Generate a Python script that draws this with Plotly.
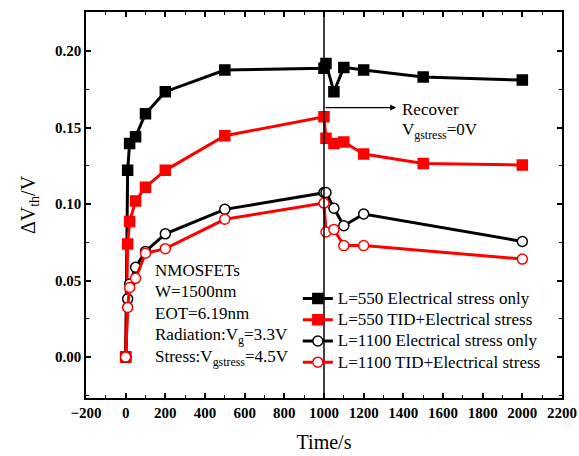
import plotly.graph_objects as go

# Time points (s): stress phase 0-1000 s, recovery phase 1000-2000 s
t_sq = [0, 10, 20, 50, 100, 200, 500, 1000, 1010, 1050, 1100, 1200, 1500, 2000]
t_circ = [0, 10, 20, 50, 100, 200, 500, 1000, 1010, 1050, 1100, 1200, 2000]

# Threshold-voltage shift (V)
l550_elec = [0.0, 0.122, 0.1396, 0.144, 0.159, 0.1734, 0.1876, 0.1887, 0.1918, 0.1734, 0.1893, 0.1876, 0.183, 0.181]
l550_tid = [0.0, 0.0739, 0.0885, 0.102, 0.111, 0.122, 0.1446, 0.157, 0.143, 0.1396, 0.1405, 0.1327, 0.1265, 0.1255]
l1100_elec = [0.0, 0.038, 0.0477, 0.0586, 0.069, 0.0805, 0.0965, 0.1075, 0.1075, 0.0972, 0.0858, 0.0935, 0.0755]
l1100_tid = [0.0, 0.0324, 0.0455, 0.0514, 0.0678, 0.0708, 0.090, 0.1006, 0.0817, 0.0834, 0.0728, 0.0728, 0.064]

names = [
    "L=550 Electrical stress only",
    "L=550 TID+Electrical stress",
    "L=1100 Electrical stress only",
    "L=1100 TID+Electrical stress",
]

# Tick positions and labels
x_ticks = [-200, 0, 200, 400, 600, 800, 1000, 1200, 1400, 1600, 1800, 2000, 2200]
x_tick_labels = ["\u2212200", "0", "200", "400", "600", "800", "1000", "1200",
                 "1400", "1600", "1800", "2000", "2200"]
y_ticks = [0.00, 0.05, 0.10, 0.15, 0.20]
y_tick_labels = ["0.00", "0.05", "0.10", "0.15", "0.20"]

SERIF = "Liberation Serif"

fig = go.Figure()

series = [
    (t_sq, l550_elec, "black", "square", "black"),
    (t_sq, l550_tid, "red", "square", "red"),
    (t_circ, l1100_elec, "black", "circle", "white"),
    (t_circ, l1100_tid, "red", "circle", "white"),
]
for (tx, vy, col, sym, fill), nm in zip(series, names):
    fig.add_trace(go.Scatter(
        x=tx, y=vy, name=f"<span style='font-size:17px'>{nm}</span>",
        mode="lines+markers",
        line=dict(color=col, width=3),
        marker=dict(symbol=sym, size=10,
                    color=fill, line=dict(color=col, width=1.5)),
    ))

# Boundary between stress and recovery
fig.add_shape(type="line", xref="x", yref="paper", x0=1000, x1=1000, y0=0, y1=1,
              line=dict(color="black", width=1.5))

# Recovery arrow and label
fig.add_annotation(x=1364, y=0.163, ax=1000, ay=0.163, xref="x", yref="y",
                   axref="x", ayref="y", text="", showarrow=True,
                   arrowhead=2, arrowsize=1, arrowwidth=1.2, arrowcolor="black")
fig.add_annotation(x=1382, y=0.1615, xref="x", yref="y", xanchor="left",
                   text="Recover", showarrow=False,
                   font=dict(family=SERIF, size=17, color="black"))
fig.add_annotation(x=1382, y=0.1475, xref="x", yref="y", xanchor="left",
                   text="V<sub>gstress</sub>=0V", showarrow=False,
                   font=dict(family=SERIF, size=17, color="black"))

# Device / condition notes
notes = [
    ("NMOSFETs", 0.0565),
    ("W=1500nm", 0.0425),
    ("EOT=6.19nm", 0.0285),
    ("Radiation:V<sub>g</sub>=3.3V", 0.014),
    ("Stress:V<sub>gstress</sub>=4.5V", -0.0005),
]
for txt, vy in notes:
    fig.add_annotation(x=140, y=vy, xref="x", yref="y", xanchor="left",
                       text=txt, showarrow=False,
                       font=dict(family=SERIF, size=17, color="black"))

axis_common = dict(
    showline=True, linecolor="black", linewidth=1.5, mirror="allticks",
    ticks="inside", ticklen=5, tickwidth=1.5, tickcolor="black",
    showgrid=False, zeroline=False, automargin=False,
    tickfont=dict(family=SERIF, size=15, color="black"),
)

fig.update_xaxes(
    range=[-200, 2200], tickmode="array", tickvals=x_ticks,
    ticktext=[f"<b>{s}</b>" for s in x_tick_labels],
    minor=dict(dtick=100, tick0=0, ticks="inside", ticklen=3, tickcolor="black", tickwidth=1.2),
    title=dict(text="Time/s", font=dict(family=SERIF, size=20, color="black"), standoff=15),
    **axis_common,
)
fig.update_yaxes(
    range=[-0.0268, 0.2255], tickmode="array", tickvals=y_ticks,
    ticktext=[f"<b>{s}</b>" for s in y_tick_labels],
    minor=dict(dtick=0.025, tick0=0, ticks="inside", ticklen=3, tickcolor="black", tickwidth=1.2),
    title=dict(text="ΔV<sub>th</sub>/V", font=dict(family=SERIF, size=20, color="black"), standoff=14),
    **axis_common,
)

fig.update_layout(
    width=579, height=456,
    margin=dict(l=86, r=17, t=12, b=58),
    paper_bgcolor="white", plot_bgcolor="white",
    legend=dict(x=0.445, y=0.298, xanchor="left", yanchor="top",
                bgcolor="rgba(0,0,0,0)", tracegroupgap=0, itemsizing="trace",
                font=dict(family=SERIF, size=14, color="black")),
    showlegend=True,
)

fig.write_html("out.html")
